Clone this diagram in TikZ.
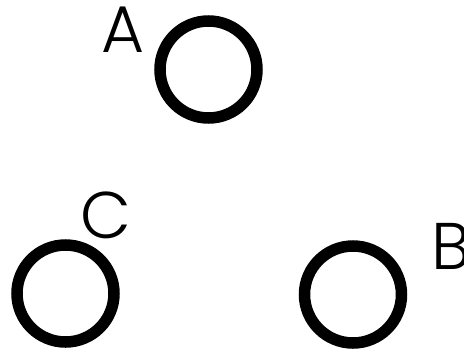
\documentclass[tikz,border=0pt]{standalone}
\usepackage{fontspec}
\setmainfont{Poppins Light}
\begin{document}
\begin{tikzpicture}[x=1pt,y=-1pt,
  ring/.style={draw=black,line width=11.5pt,circle,minimum size=97pt,inner sep=0pt},
  lbl/.style={inner sep=0pt,font=\fontsize{66}{66}\selectfont}]
\useasboundingbox (0,0) rectangle (464,349);
\node[ring] (ca) at (208.5,69.5) {};
\node[ring] (cc) at (65.5,293.5) {};
\node[ring] (cb) at (353,294.5) {};
\node[lbl] (la) at (123.5,30) {A};
\node[lbl] (lc) at (105.5,215) {C};
\node[lbl,anchor=west] (lb) at (431,246.5) {B};
\end{tikzpicture}
\end{document}
